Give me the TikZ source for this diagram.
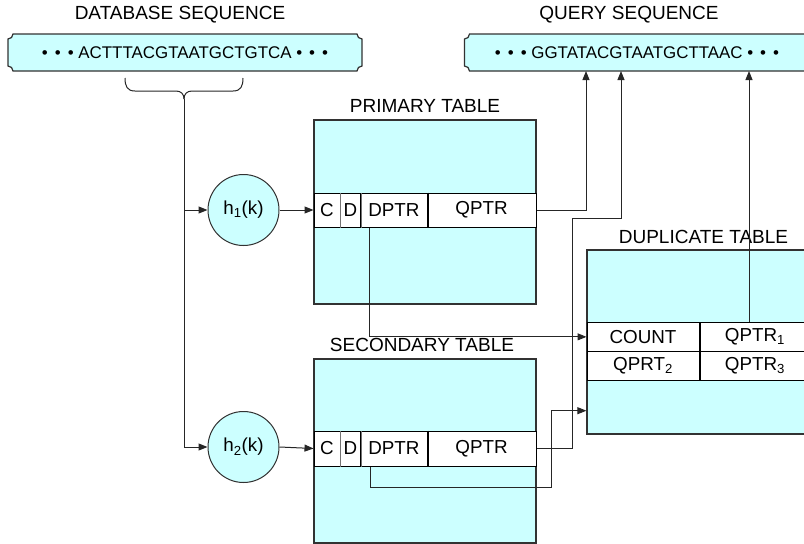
\documentclass[tikz,border=0pt]{standalone}
\usepackage{fontspec}
\setmainfont{Liberation Sans}
\usetikzlibrary{arrows.meta}
\definecolor{tcyan}{RGB}{204,255,255}
\definecolor{edge}{RGB}{50,50,50}
\newcommand\seqdot{\textbullet}
\newcommand\dotrun{\seqdot\hspace{7pt}\seqdot\hspace{7pt}\seqdot}

\begin{document}
\begin{tikzpicture}[x=1pt,y=-1pt,
  lbl/.style={font=\fontsize{19}{21}\selectfont, inner sep=0},
  seqtext/.style={font=\fontsize{16.9}{18}\selectfont, inner sep=0},
  seqbox/.style={draw=edge, line width=1.2pt, fill=tcyan},
  body/.style={draw=edge, line width=1.2pt, fill=tcyan, minimum width=222pt, minimum height=184pt, inner sep=0},
  cell/.style={draw=black, line width=1pt, fill=white, minimum height=34pt, inner sep=0, font=\fontsize{18.8}{20}\selectfont},
  thin/.style={draw=black!55},
  hashf/.style={circle, draw=edge, line width=1pt, fill=tcyan, minimum size=71pt, inner sep=0, font=\fontsize{18.8}{20}\selectfont},
  link/.style={draw=black!85, line width=1pt},
  tip/.style={-{Triangle[length=9pt,width=7pt]}},
]
\useasboundingbox (0,0) rectangle (804,544);
\clip (0,0) rectangle (804,544);

% ---- sequence strips ----
\draw[seqbox] (13,34) -- (357,34) .. controls (357,36.76) and (359.24,39) .. (362,39)
  -- (362,66) .. controls (359.24,66) and (357,68.24) .. (357,71)
  -- (13,71) .. controls (13,68.24) and (10.76,66) .. (8,66)
  -- (8,39) .. controls (10.76,39) and (13,36.76) .. (13,34) -- cycle;
\draw[seqbox] (469.5,34) -- (805,34) .. controls (805,36.76) and (807.24,39) .. (810,39)
  -- (810,66) .. controls (807.24,66) and (805,68.24) .. (805,71)
  -- (469.5,71) .. controls (469.5,68.24) and (467.26,66) .. (464.5,66)
  -- (464.5,39) .. controls (467.26,39) and (469.5,36.76) .. (469.5,34) -- cycle;

\node[seqtext] (dbseq) at (185,52.5) {\dotrun\ ACTTTACGTAATGCTGTCA \dotrun};
\node[seqtext] (qseq) at (637,52.5) {\dotrun\ GGTATACGTAATGCTTAAC \dotrun};

\node[lbl] (dbtitle) at (180,15) {DATABASE SEQUENCE};
\node[lbl] (qtitle) at (629,15) {QUERY SEQUENCE};

\coordinate (qa) at (586,71);
\coordinate (qb) at (621,71);
\coordinate (qc) at (749,71);

% ---- brace under the database window ----
\draw[link] (125,78) .. controls (125,86) and (127,91) .. (135,91) -- (176,91)
  .. controls (181,91) and (184,94) .. (184,99);
\draw[link] (243,78) .. controls (243,86) and (241,91) .. (233,91) -- (192,91)
  .. controls (187,91) and (184,94) .. (184,99);
\coordinate (bt) at (184,99);

% ---- hash functions ----
\node[hashf] (h1) at (243.5,210) {h\textsubscript{1}(k)};
\node[hashf] (h2) at (243.5,447) {h\textsubscript{2}(k)};

% ---- primary table ----
\node[lbl] (ptitle) at (425,106) {PRIMARY TABLE};
\node[body] (ptab) at (425,212) {};
\node[cell, minimum width=26pt] (pc) at (327,210) {C};
\node[cell, minimum width=20.7pt] (pdd) at (350.35,210) {D};
\node[cell, minimum width=66.3pt] (pd) at (393.85,210) {DPTR\hspace{9pt}};
\node[cell, minimum width=109pt] (pq) at (481.5,210) {QPTR};
\draw[thin] (pc.north east) -- (pc.south east);
\draw[thin] (pdd.north east) -- (pdd.south east);
\draw[line width=2pt] (pd.north east) -- (pd.south east);

% ---- secondary table ----
\node[lbl] (stitle) at (422,345) {SECONDARY TABLE};
\node[body] (stab) at (425,451) {};
\node[cell, minimum width=26pt, minimum height=35pt] (sc) at (327,448.5) {C};
\node[cell, minimum width=20.7pt, minimum height=35pt] (sdd) at (350.35,448.5) {D};
\node[cell, minimum width=66.3pt, minimum height=35pt] (sd) at (393.85,448.5) {DPTR\hspace{9pt}};
\node[cell, minimum width=109pt, minimum height=35pt] (sq) at (481.5,448.5) {QPTR};
\draw[thin] (sc.north east) -- (sc.south east);
\draw[thin] (sdd.north east) -- (sdd.south east);
\draw[line width=2pt] (sd.north east) -- (sd.south east);

% ---- duplicate table ----
\node[lbl] (dtitle) at (703.5,237) {DUPLICATE TABLE};
\node[body, minimum width=224pt] (dup) at (699,342) {};
\node[cell, minimum width=112pt, minimum height=28.3pt] (dc) at (643,336.85) {COUNT};
\node[cell, minimum width=112pt, minimum height=28.3pt] (dq1) at (755,336.85) {QPTR\textsubscript{1}};
\node[cell, minimum width=112pt, minimum height=29pt] (dq2) at (643,365.5) {QPRT\textsubscript{2}};
\node[cell, minimum width=112pt, minimum height=29pt] (dq3) at (755,365.5) {QPTR\textsubscript{3}};
\draw[line width=2pt] (dc.north east) -- (dq2.south east);

% ---- connectors ----
\draw[link,tip] (bt) |- (h1.west);
\draw[link,tip] (bt) |- (h2.west);
\draw[link,tip] (h1.east) -- (pc.west);
\draw[link,tip] (h2.east) -- (sc.west);

\draw[link,tip] (pq.east) -| (qa);
\draw[link,tip] (sq.east) -| (572.7,218) -| (qb);
\draw[link,tip] (qc |- dq1.north) -- (qc);

\draw[link,tip] ([xshift=9.5pt]pd.south west) |- (dc.west);
\coordinate (dk) at (551.7,410.7);
\draw[link,tip] ([xshift=10pt]sd.south west) -- ++(0,20.5) -| (dk) -- (dup.west |- dk);
\end{tikzpicture}
\end{document}
